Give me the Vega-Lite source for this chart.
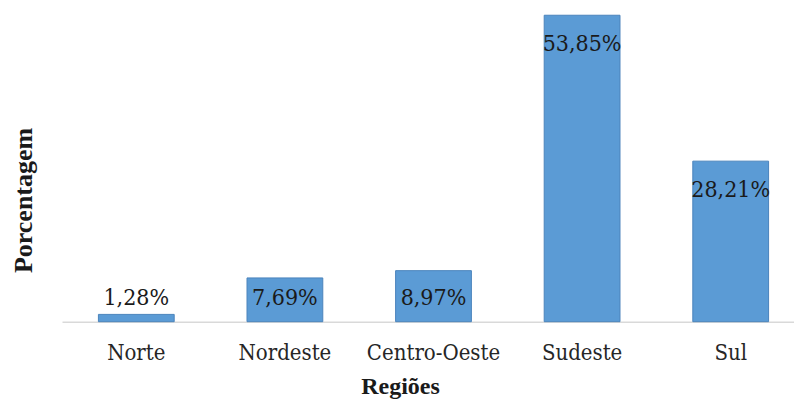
{
  "$schema": "https://vega.github.io/schema/vega-lite/v6.json",
  "width": 732,
  "height": 318.7,
  "autosize": {"type": "none"},
  "padding": {"left": 62, "top": 3, "right": 0, "bottom": 79},
  "background": "white",
  "config": {"view": {"stroke": null}, "font": "DejaVu Serif Condensed"},
  "data": {
    "values": [
      {"regiao": "Norte", "pct": 1.28, "rotulo": "1,28%"},
      {"regiao": "Nordeste", "pct": 7.69, "rotulo": "7,69%"},
      {"regiao": "Centro-Oeste", "pct": 8.97, "rotulo": "8,97%"},
      {"regiao": "Sudeste", "pct": 53.85, "rotulo": "53,85%"},
      {"regiao": "Sul", "pct": 28.21, "rotulo": "28,21%"}
    ]
  },
  "encoding": {
    "x": {
      "field": "regiao",
      "type": "nominal",
      "sort": null,
      "scale": {"range": [0, 743], "paddingInner": 0.49, "paddingOuter": 0.245},
      "axis": {
        "title": "Regiões",
        "labelAngle": 0,
        "ticks": false,
        "tickSize": 0,
        "domainColor": "#d9d9d9",
        "domainWidth": 1.5,
        "labelFont": "DejaVu Serif Condensed",
        "labelFontSize": 22,
        "labelColor": "#262626",
        "labelBaseline": "alphabetic",
        "labelPadding": 38,
        "titleFont": "Liberation Serif",
        "titleFontSize": 24,
        "titleFontWeight": "bold",
        "titleColor": "#1a1a1a",
        "titleX": 338,
        "titleY": 72,
        "titleAlign": "center",
        "titleBaseline": "alphabetic"
      }
    }
  },
  "layer": [
    {
      "mark": {"type": "bar", "fill": "#5B9BD5", "stroke": "#4A84BC", "strokeWidth": 1},
      "encoding": {
        "y": {
          "field": "pct",
          "type": "quantitative",
          "scale": {"domain": [0, 56], "nice": false},
          "axis": {
            "title": "Porcentagem",
            "labels": false,
            "ticks": false,
            "domain": false,
            "grid": false,
            "titleFont": "Liberation Serif",
            "titleFontSize": 26,
            "titleFontWeight": "bold",
            "titleColor": "#1a1a1a",
            "titleAngle": -90,
            "titleX": -31,
            "titleY": 197,
            "titleAlign": "center",
            "titleBaseline": "alphabetic"
          }
        }
      }
    },
    {
      "transform": [{"filter": "datum.pct > 20"}],
      "mark": {"type": "text", "font": "DejaVu Serif Condensed", "fontSize": 23, "baseline": "alphabetic", "dy": 36, "color": "#1a1a1a"},
      "encoding": {
        "y": {"field": "pct", "type": "quantitative"},
        "text": {"field": "rotulo"}
      }
    },
    {
      "transform": [{"filter": "datum.pct < 20"}],
      "mark": {"type": "text", "font": "DejaVu Serif Condensed", "fontSize": 23, "baseline": "alphabetic", "color": "#1a1a1a"},
      "encoding": {
        "y": {"datum": 2.94},
        "text": {"field": "rotulo"}
      }
    }
  ]
}
